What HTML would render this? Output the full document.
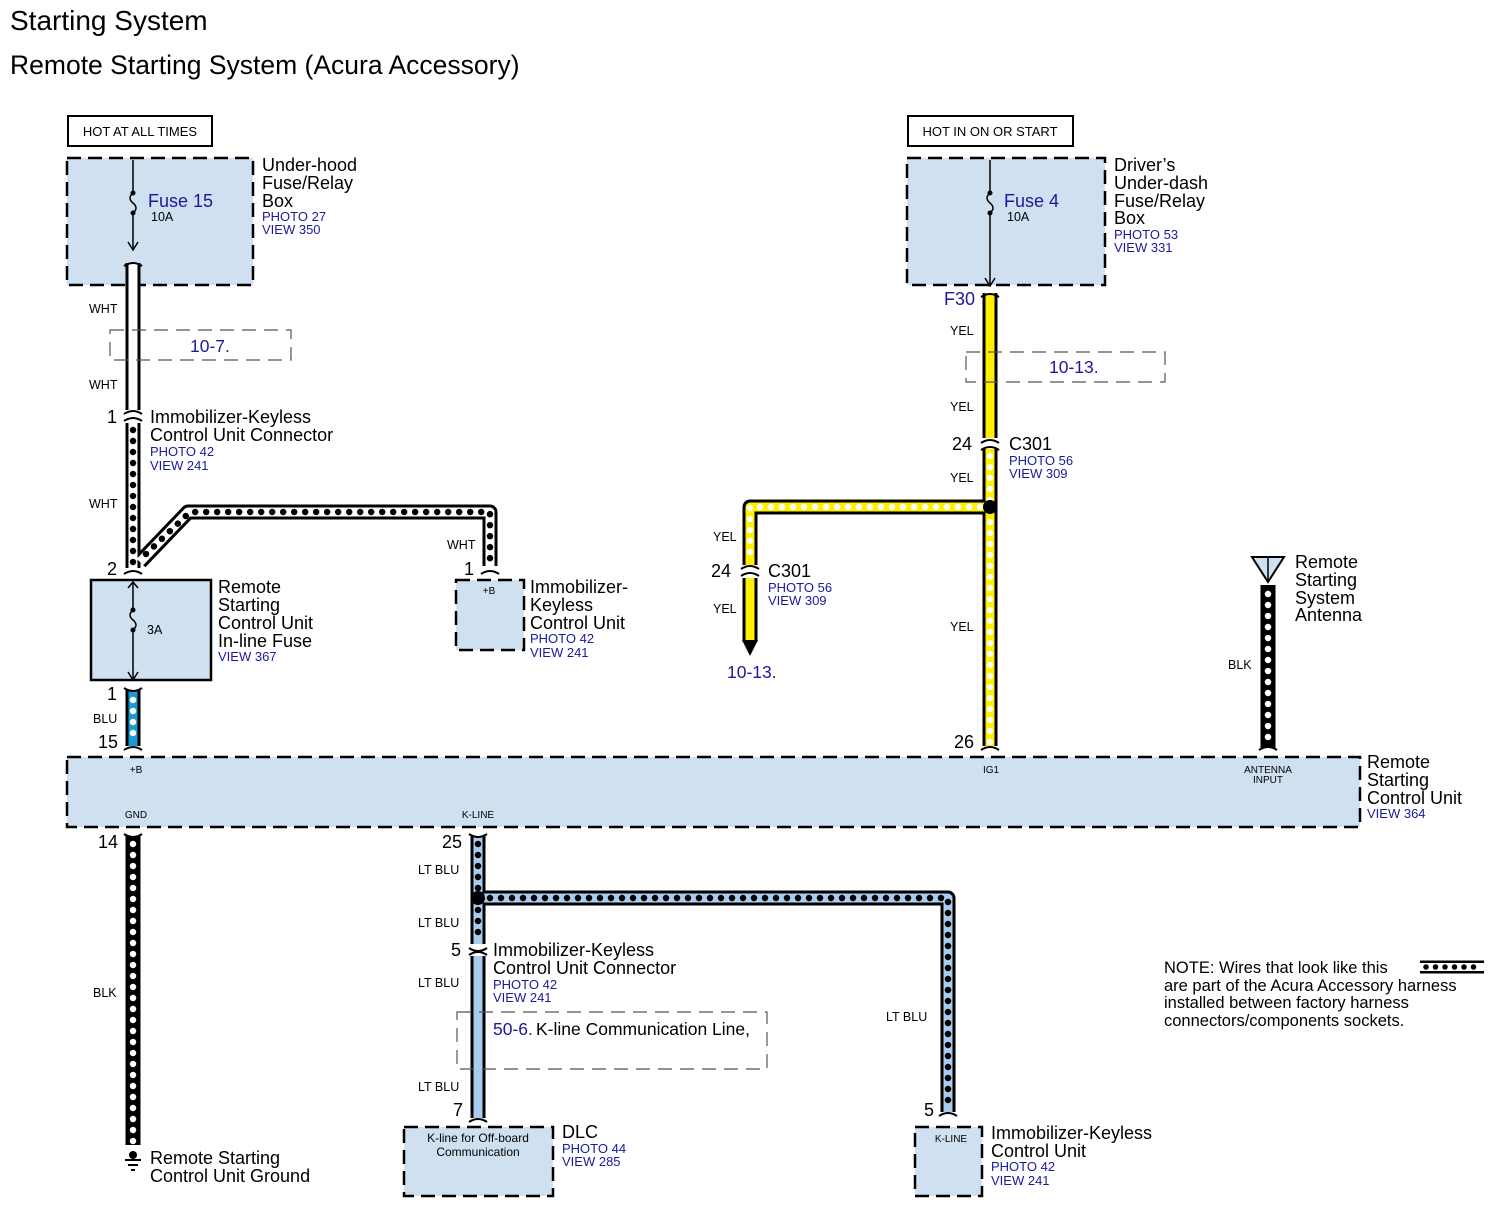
<!DOCTYPE html>
<html><head><meta charset="utf-8"><style>
body{margin:0;background:#fff}
svg{display:block;font-family:"Liberation Sans",Arial,sans-serif}
.b{fill:#1a1a9a}
</style></head><body>
<svg width="1494" height="1206" viewBox="0 0 1494 1206" xmlns="http://www.w3.org/2000/svg">
<text x="10" y="30" font-size="28">Starting System</text>
<text x="10" y="74" font-size="26.5">Remote Starting System (Acura Accessory)</text>

<g fill="none" stroke="#000" stroke-width="2">
<rect x="68" y="116" width="144" height="30"/>
<rect x="908" y="116" width="165" height="30"/>
</g>
<text x="140" y="136" font-size="13" text-anchor="middle">HOT AT ALL TIMES</text>
<text x="990" y="136" font-size="13" text-anchor="middle">HOT IN ON OR START</text>

<g fill="#cfe0f1" stroke="#000" stroke-width="2.5" stroke-dasharray="14 7">
<rect x="67" y="158" width="186" height="127"/>
<rect x="907" y="158" width="198" height="127"/>
<rect x="456" y="580" width="68" height="70"/>
<rect x="67" y="757" width="1293" height="70"/>
<rect x="404" y="1127" width="149" height="69"/>
<rect x="915" y="1127" width="67" height="69"/>
</g>
<rect x="91" y="580" width="120" height="100" fill="#cfe0f1" stroke="#000" stroke-width="2.5"/>

<g fill="none" stroke="#000" stroke-width="1.5">
<path d="M133 160 V193 M133 213 V248" /><path d="M133 193 q-6 5 0 10 q6 5 0 10" />
<path d="M990 160 V193 M990 213 V285" /><path d="M990 193 q-6 5 0 10 q6 5 0 10" />
<path d="M133 582 V610 M133 630 V678" /><path d="M133 610 q-6 5 0 10 q6 5 0 10" />
<path d="M128 588 L133 582 L138 588"/>
</g>
<g fill="#000"><circle cx="133" cy="193" r="2.5"/><circle cx="133" cy="213" r="2.5"/><circle cx="990" cy="193" r="2.5"/><circle cx="990" cy="213" r="2.5"/><circle cx="133" cy="610" r="2.5"/><circle cx="133" cy="630" r="2.5"/></g>
<g fill="none" stroke="#000" stroke-width="1.5"><path d="M128 242 L133 250 L138 242"/><path d="M985 278 L990 286 L995 278"/><path d="M128 672 L133 680 L138 672"/></g>

<g fill="none" stroke-linejoin="round">
<g stroke="#000" stroke-width="15">
<path d="M133 263 V410"/>
<path d="M133 423 V568"/>
<path d="M140 562 L188 512 H490 V566"/>
<path d="M133 690 V746"/>
<path d="M990 293 V438"/>
<path d="M990 449 V746 M990 507 H750 V565"/>
<path d="M750 578 V642"/>
<path d="M1268 585 V748"/>
<path d="M133 836 V1145"/>
<path d="M478 836 V944 M478 898 H948 V1112"/>
<path d="M478 956 V1118"/>
</g>
<g stroke-width="9">
<path d="M133 263 V410" stroke="#fff"/>
<path d="M133 423 V568" stroke="#fff"/>
<path d="M140 562 L188 512 H490 V566" stroke="#fff"/>
<path d="M133 690 V746" stroke="#1a9ad0"/>
<path d="M990 293 V438" stroke="#ffef00"/>
<path d="M990 449 V746 M990 507 H750 V565" stroke="#ffef00"/>
<path d="M750 578 V642" stroke="#ffef00"/>
<path d="M1268 585 V748" stroke="#000"/>
<path d="M133 836 V1145" stroke="#000"/>
<path d="M478 836 V944 M478 898 H948 V1112" stroke="#a8cdf0"/>
<path d="M478 956 V1118" stroke="#a8cdf0"/>
</g>
<g stroke-width="6.5" stroke-linecap="round" stroke-dasharray="0 11">
<path d="M133 430 V565" stroke="#000"/>
<path d="M146 554 L190 512 H490 V564" stroke="#000"/>
<path d="M133 700 V742" stroke="#fff"/>
<path d="M990 456 V744 M980 507 H750 V562" stroke="#fff"/>
<path d="M1268 594 V744" stroke="#fff"/>
<path d="M133 844 V1142" stroke="#fff"/>
<path d="M478 844 V942 M490 898 H948 V1108" stroke="#000"/>
</g>
</g>
<path d="M742 640 L758 640 L750 656 Z" fill="#000"/>
<circle cx="990" cy="507" r="7" fill="#000"/>
<circle cx="478" cy="898" r="7" fill="#000"/>

<g fill="none" stroke="#000" stroke-width="2">
<path d="M124 414 Q133 408 142 414 M124 421 Q133 415 142 421"/>
<path d="M124 574 Q133 568 142 574"/>
<path d="M481 574 Q490 568 499 574"/>
<path d="M124 688 Q133 694 142 688"/>
<path d="M124 750 Q133 744 142 750"/>
<path d="M981 443 Q990 437 999 443 M981 450 Q990 444 999 450"/>
<path d="M981 297 Q990 291 999 297"/>
<path d="M124 266 Q133 260 142 266"/>
<path d="M741 569 Q750 563 759 569 M741 576 Q750 570 759 576"/>
<path d="M981 750 Q990 744 999 750"/>
<path d="M1259 750 Q1268 744 1277 750"/>
<path d="M124 834 Q133 840 142 834"/>
<path d="M469 834 Q478 840 487 834"/>
<path d="M469 948 Q478 954 487 948 M469 955 Q478 949 487 955"/>
<path d="M469 1122 Q478 1116 487 1122"/>
<path d="M939 1116 Q948 1110 957 1116"/>
</g>

<path d="M1252 557 H1284 L1268 582 Z" fill="#cfe0f1" stroke="#000" stroke-width="2"/>
<path d="M1268 557 V582" stroke="#000" stroke-width="1.5"/>
<g stroke="#000" stroke-width="2"><path d="M125 1160 H141 M128 1165 H138 M131 1170 H135"/></g>
<circle cx="133" cy="1155" r="4" fill="#000"/>

<g fill="none" stroke="#555" stroke-width="1.2" stroke-dasharray="14 8">
<rect x="110" y="330" width="181" height="30"/>
<rect x="966" y="352" width="199" height="30"/>
<rect x="457" y="1012" width="310" height="57"/>
</g>
<g font-size="17.5">
<text x="190" y="352" class="b">10-7.</text>
<text x="1049" y="373" class="b">10-13.</text>
<text x="727" y="678" class="b">10-13.</text>
<text x="493" y="1035" class="b">50-6.</text>
</g>
<text x="536" y="1035" font-size="17.5">K-line Communication Line,</text>

<g font-size="18">
<text x="262" y="171">Under-hood</text><text x="262" y="189">Fuse/Relay</text><text x="262" y="207">Box</text>
<text x="1114" y="171">Driver’s</text><text x="1114" y="189">Under-dash</text><text x="1114" y="207">Fuse/Relay</text><text x="1114" y="224">Box</text>
<text x="150" y="423">Immobilizer-Keyless</text><text x="150" y="441">Control Unit Connector</text>
<text x="218" y="593">Remote</text><text x="218" y="611">Starting</text><text x="218" y="629">Control Unit</text><text x="218" y="647">In-line Fuse</text>
<text x="530" y="593">Immobilizer-</text><text x="530" y="611">Keyless</text><text x="530" y="629">Control Unit</text>
<text x="1009" y="450">C301</text>
<text x="768" y="577">C301</text>
<text x="1295" y="568">Remote</text><text x="1295" y="586">Starting</text><text x="1295" y="604">System</text><text x="1295" y="621">Antenna</text>
<text x="1367" y="768">Remote</text><text x="1367" y="786">Starting</text><text x="1367" y="804">Control Unit</text>
<text x="493" y="956">Immobilizer-Keyless</text><text x="493" y="974">Control Unit Connector</text>
<text x="562" y="1138">DLC</text>
<text x="991" y="1139">Immobilizer-Keyless</text><text x="991" y="1157">Control Unit</text>
<text x="150" y="1164">Remote Starting</text><text x="150" y="1182">Control Unit Ground</text>
<text x="148" y="207" class="b">Fuse 15</text>
<text x="1004" y="207" class="b">Fuse 4</text>
<text x="944" y="305" class="b">F30</text>
<text x="107" y="423">1</text><text x="107" y="575">2</text><text x="464" y="575">1</text>
<text x="107" y="700">1</text><text x="98" y="748">15</text>
<text x="952" y="450">24</text><text x="711" y="577">24</text><text x="954" y="748">26</text>
<text x="98" y="848">14</text><text x="442" y="848">25</text><text x="451" y="956">5</text><text x="453" y="1116">7</text><text x="924" y="1116">5</text>
</g>
<g font-size="16.5">
<text x="1164" y="973">NOTE: Wires that look like this</text>
<text x="1164" y="991">are part of the Acura Accessory harness</text>
<text x="1164" y="1008">installed between factory harness</text>
<text x="1164" y="1026">connectors/components sockets.</text>
</g>
<g fill="none">
<path d="M1420 967 H1484" stroke="#000" stroke-width="13"/>
<path d="M1420 967 H1484" stroke="#fff" stroke-width="8"/>
<path d="M1426 967 H1482" stroke="#000" stroke-width="5.5" stroke-linecap="round" stroke-dasharray="0 9.5"/>
</g>
<g font-size="13" class="b">
<text x="262" y="221">PHOTO 27</text><text x="262" y="234">VIEW 350</text>
<text x="1114" y="239">PHOTO 53</text><text x="1114" y="252">VIEW 331</text>
<text x="150" y="456">PHOTO 42</text><text x="150" y="470">VIEW 241</text>
<text x="218" y="661">VIEW 367</text>
<text x="530" y="643">PHOTO 42</text><text x="530" y="657">VIEW 241</text>
<text x="1009" y="465">PHOTO 56</text><text x="1009" y="478">VIEW 309</text>
<text x="768" y="592">PHOTO 56</text><text x="768" y="605">VIEW 309</text>
<text x="1367" y="818">VIEW 364</text>
<text x="493" y="989">PHOTO 42</text><text x="493" y="1002">VIEW 241</text>
<text x="562" y="1153">PHOTO 44</text><text x="562" y="1166">VIEW 285</text>
<text x="991" y="1171">PHOTO 42</text><text x="991" y="1185">VIEW 241</text>
</g>
<g font-size="12.5">
<text x="151" y="221">10A</text><text x="1007" y="221">10A</text><text x="147" y="634">3A</text>
<text x="89" y="313">WHT</text><text x="89" y="389">WHT</text><text x="89" y="508">WHT</text><text x="447" y="549">WHT</text>
<text x="93" y="723">BLU</text>
<text x="950" y="335">YEL</text><text x="950" y="411">YEL</text><text x="950" y="482">YEL</text><text x="950" y="631">YEL</text>
<text x="713" y="541">YEL</text><text x="713" y="613">YEL</text>
<text x="1228" y="669">BLK</text>
<text x="93" y="997">BLK</text>
<text x="418" y="874">LT BLU</text><text x="418" y="927">LT BLU</text><text x="418" y="987">LT BLU</text><text x="418" y="1091">LT BLU</text>
<text x="886" y="1021">LT BLU</text>
</g>
<g font-size="10" text-anchor="middle">
<text x="136" y="773">+B</text><text x="489" y="594">+B</text><text x="991" y="773">IG1</text>
<text x="1268" y="773">ANTENNA</text><text x="1268" y="783">INPUT</text>
<text x="136" y="818">GND</text><text x="478" y="818">K-LINE</text>
<text x="951" y="1142">K-LINE</text>
<text x="478" y="1142" font-size="12">K-line for Off-board</text><text x="478" y="1156" font-size="12">Communication</text>
</g>
</svg>
</body></html>
